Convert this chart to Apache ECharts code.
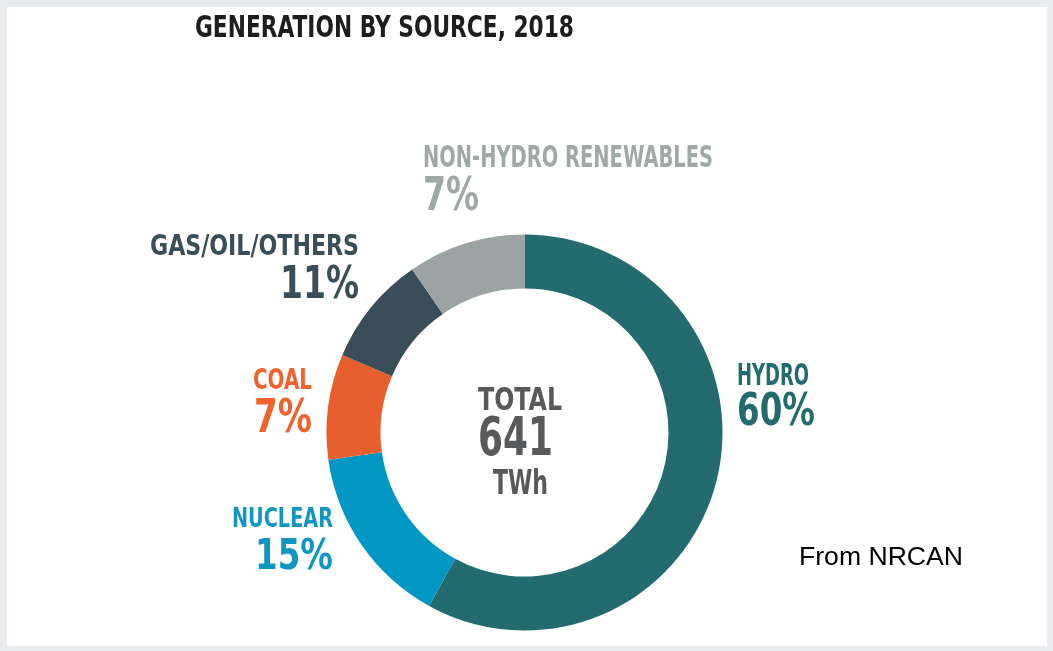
<!DOCTYPE html>
<html>
<head>
<meta charset="utf-8">
<script src="https://cdn.jsdelivr.net/npm/echarts@6/dist/echarts.min.js"></script>
<style>
html,body{margin:0;padding:0;background:#e9ebee;}
#main{width:1053px;height:651px;}
</style>
</head>
<body>
<div id="main"></div>
<script>
// ---- data ----
const titleText = 'GENERATION BY SOURCE, 2018';
const categories = ['HYDRO', 'NUCLEAR', 'COAL', 'GAS/OIL/OTHERS', 'NON-HYDRO RENEWABLES'];
// arc shares as drawn in the reference (percent of ring)
const arcShares = [58.0, 14.8, 8.6, 9.0, 9.6];
// published percentage labels
const pctLabels = ['60%', '15%', '7%', '11%', '7%'];
const totalLines = ['TOTAL', '641', 'TWh'];
const sourceNote = 'From NRCAN';

const sliceColors = ['#236b6f', '#0097c4', '#e85f2e', '#3a4e59', '#9ba4a2'];
const labelColors = ['#236b6f', '#0f96c3', '#f0632c', '#3a4e59', '#a0a9a7'];

const FONT = "'Liberation Sans Narrow', 'DejaVu Sans Condensed', sans-serif";

// measure helper to emulate a condensed gothic face by horizontal scaling
const mctx = document.createElement('canvas').getContext('2d');
function fitScale(text, font, targetW) {
  mctx.font = font;
  const w = mctx.measureText(text).width;
  return w > 0 ? targetW / w : 1;
}
function condText(text, x, y, size, targetW, align, color) {
  const font = 'bold ' + size + 'px ' + FONT;
  const s = fitScale(text, font, targetW);
  return {type: 'text', x: x, y: y, scaleX: s, scaleY: 1,
    style: {text: text, font: font, fill: color, align: align, verticalAlign: 'middle'}};
}

// label layout: [x, yName, nameSize, nameW, yPct, pctSize, pctW, align]
const labelPlace = [
  [737, 377.5, 29.5, 72, 413.5, 45, 78, 'left'],
  [333, 519.7, 26.5, 101, 557.5, 43, 78, 'right'],
  [312, 381.7, 27.5, 59, 420, 46, 58, 'right'],
  [359, 248, 28, 209, 286.5, 45, 79, 'right'],
  [423, 159, 30, 290, 197.5, 47, 56, 'left']
];

const chart = echarts.init(document.getElementById('main'), null, {renderer: 'canvas'});

const graphics = [
  {type: 'rect', z: -10, shape: {x: 7, y: 7, width: 1040, height: 639}, style: {fill: '#ffffff'}},
  condText(titleText, 195, 29.2, 30, 379, 'left', '#1d1d1d'),
  {type: 'text', x: 799, y: 557.4, style: {text: sourceNote, font: '26.6px "Liberation Sans", Arial, sans-serif', fill: '#000000', align: 'left', verticalAlign: 'middle'}},
  condText(totalLines[0], 520, 401.7, 31.5, 84, 'center', '#58595b'),
  condText(totalLines[1], 515.5, 441, 53.5, 75, 'center', '#58595b'),
  condText(totalLines[2], 520.5, 485.3, 33, 55, 'center', '#58595b')
];

categories.forEach((c, i) => {
  const p = labelPlace[i];
  graphics.push(condText(c, p[0], p[1], p[2], p[3], p[7], labelColors[i]));
  graphics.push(condText(pctLabels[i], p[0], p[4], p[5], p[6], p[7], labelColors[i]));
});

chart.setOption({
  backgroundColor: '#e9ebee',
  animation: false,
  graphic: graphics,
  series: [{
    type: 'pie',
    center: [524.5, 432.5],
    radius: [144, 198],
    startAngle: 90,
    clockwise: true,
    avoidLabelOverlap: false,
    label: {show: false},
    labelLine: {show: false},
    emphasis: {disabled: true},
    itemStyle: {borderWidth: 0},
    data: categories.map((c, i) => ({name: c, value: arcShares[i], itemStyle: {color: sliceColors[i]}}))
  }]
});
</script>
</body>
</html>
